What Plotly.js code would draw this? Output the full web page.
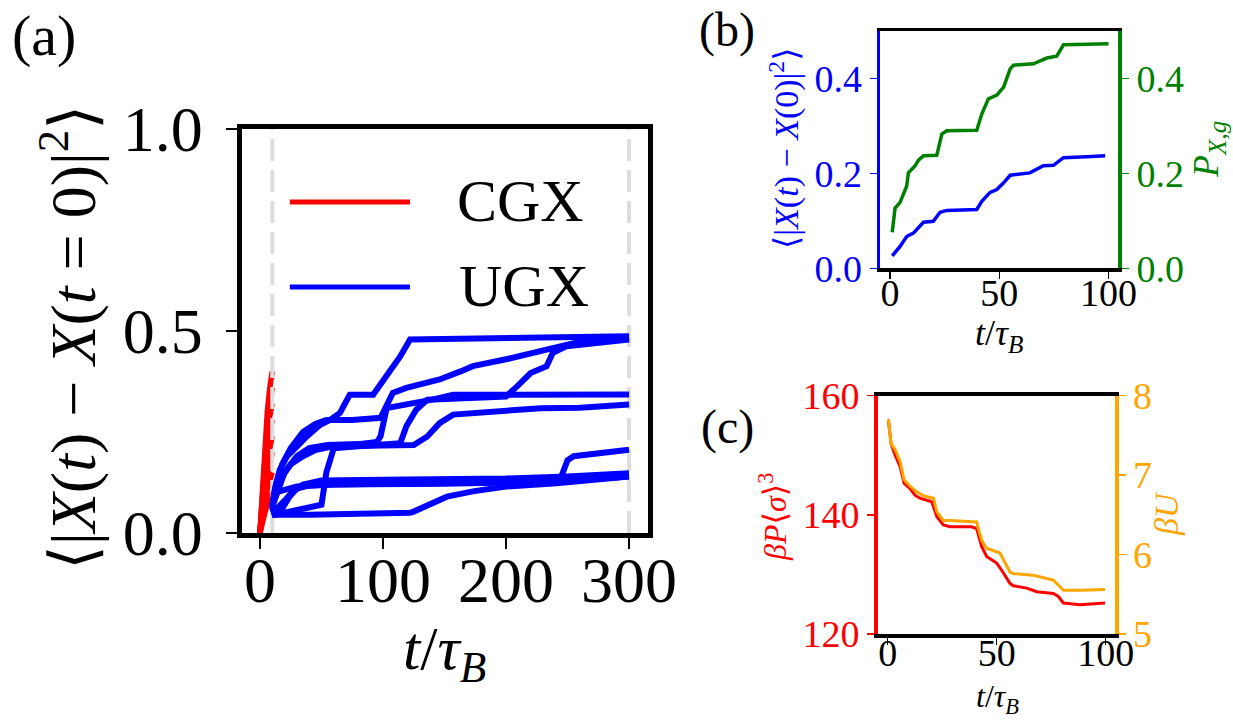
<!DOCTYPE html>
<html>
<head>
<meta charset="utf-8">
<script src="https://cdn.plot.ly/plotly-3.0.1.min.js"></script>
<style>html,body{margin:0;padding:0;background:#fff;}#chart{width:1233px;height:721px;}</style>
</head>
<body>
<div id="chart"></div>
<script>
// ---------------- DATA ----------------
// Panel (a): CGX trajectories (t from 0 to 10)
const cgxT = [0, 2, 4, 6, 8, 10];
const cgx1 = [0, 0.12, 0.22, 0.30, 0.36, 0.40];
const cgx2 = [0, 0.10, 0.19, 0.27, 0.32, 0.36];
const cgx3 = [0, 0.09, 0.17, 0.24, 0.29, 0.32];
const cgx4 = [0, 0.08, 0.15, 0.21, 0.25, 0.28];
const cgx5 = [0, 0.07, 0.13, 0.18, 0.21, 0.24];
const cgx6 = [0, 0.05, 0.10, 0.14, 0.17, 0.20];
const cgx7 = [0, 0.04, 0.08, 0.11, 0.13, 0.15];
const cgx8 = [0, 0.03, 0.05, 0.07, 0.09, 0.10];
const cgxSeries = [cgx1, cgx2, cgx3, cgx4, cgx5, cgx6, cgx7, cgx8];

// Panel (a): UGX trajectories
const ugx1T = [10,12,16,22,30,38,49,57,65,68,73,92,103,114,122,150,200,250,300];
const ugx1Y = [0.065,0.107,0.156,0.19,0.214,0.239,0.268,0.28,0.297,0.313,0.342,0.342,0.388,0.437,0.479,0.48,0.481,0.483,0.487];
const ugx2T = [10,13,18,25,35,45,54,75,98,103,108,119,146,163,173,200,228,241,255,300];
const ugx2Y = [0.065,0.12,0.17,0.21,0.25,0.27,0.28,0.28,0.285,0.32,0.347,0.359,0.38,0.40,0.413,0.43,0.45,0.462,0.47,0.485];
const ugx3T = [10,12,20,35,50,54,60,80,100,114,119,127,136,170,200,209,220,233,238,249,300];
const ugx3Y = [0.065,0.045,0.05,0.06,0.07,0.15,0.21,0.215,0.218,0.222,0.264,0.305,0.33,0.335,0.338,0.363,0.396,0.413,0.446,0.462,0.479];
const ugx4T = [10,13,20,30,40,55,80,95,98,103,120,140,157,200,250,300];
const ugx4Y = [0.065,0.09,0.15,0.19,0.21,0.218,0.22,0.225,0.239,0.309,0.318,0.33,0.342,0.342,0.343,0.343];
const ugx5T = [10,12,18,25,35,45,60,90,110,125,136,146,157,173,200,228,260,300];
const ugx5Y = [0.065,0.1,0.14,0.17,0.19,0.205,0.215,0.218,0.218,0.218,0.239,0.272,0.293,0.297,0.301,0.309,0.31,0.318];
const ugx6T = [10,12,30,60,100,150,200,240,245,250,255,275,300];
const ugx6Y = [0.065,0.1,0.115,0.12,0.122,0.123,0.125,0.127,0.14,0.18,0.19,0.197,0.206];
const ugx7T = [10,12,20,26,35,50,100,150,200,250,300];
const ugx7Y = [0.065,0.055,0.08,0.10,0.12,0.13,0.132,0.133,0.135,0.14,0.148];
const ugx8T = [10,12,40,80,110,122,125,141,152,173,200,241,270,300];
const ugx8Y = [0.065,0.045,0.045,0.046,0.047,0.05,0.053,0.074,0.09,0.103,0.115,0.123,0.13,0.14];
const ugx9T = [10,12,18,24,30,40,60,100,150,200,250,300];
const ugx9Y = [0.065,0.05,0.06,0.09,0.11,0.118,0.12,0.12,0.122,0.125,0.13,0.14];
const ugxSeries = [[ugx1T,ugx1Y],[ugx2T,ugx2Y],[ugx3T,ugx3Y],[ugx4T,ugx4Y],[ugx5T,ugx5Y],[ugx6T,ugx6Y],[ugx7T,ugx7Y],[ugx8T,ugx8Y],[ugx9T,ugx9Y]];

// Vertical dashed reference times in (a)
const refTimes = [10, 300];

// Panel (b)
const bMsdT = [1,4.6,7.6,10.7,15.3,19.8,22.9,26,39.7,42,45.8,48.9,52,55,64,67.2,70.2,74.8,79.4,90,98.5];
const bMsdY = [0.026,0.046,0.067,0.074,0.097,0.099,0.118,0.122,0.124,0.141,0.160,0.166,0.18,0.196,0.201,0.208,0.216,0.217,0.233,0.235,0.237];
const bPT = [1,2.3,4.6,7.6,8.4,11.5,13,15.3,21.4,23.7,26,39.7,42,45,48.9,52,55,56.5,65.6,71.8,76.3,79.4,90,100];
const bPY = [0.076,0.127,0.139,0.173,0.201,0.216,0.228,0.237,0.238,0.283,0.29,0.291,0.325,0.357,0.365,0.382,0.42,0.428,0.431,0.443,0.447,0.471,0.472,0.473];

// Panel (c)
const cPressT = [0.3,1.5,3.4,5.7,7.5,10.2,12.5,14.8,20.2,22.5,25.5,28.6,38.5,40.8,43.1,45.4,50,52.3,56.1,57.6,63.8,68.4,76,78.3,80.6,88.3,99.7];
const cPressY = [156.0,152,150,148.1,145.3,144.4,143.3,142.8,142.2,139.7,138.3,138.0,138.0,137.7,134.7,133.0,131.9,130.7,128.5,128.1,127.7,127.1,126.8,126.3,125.2,124.9,125.2];
const cUT = [0.3,1.5,3.4,5.7,7.5,10.2,13.3,16.4,21,22.5,25.5,28.6,40.8,43.1,45.4,51.5,56.1,57.6,66.8,76,80.6,88.3,99.7];
const cUY = [7.70,7.40,7.32,7.17,6.94,6.86,6.79,6.74,6.71,6.54,6.43,6.43,6.41,6.18,6.08,6.02,5.78,5.76,5.74,5.68,5.55,5.55,5.56];

// Tick values / labels
const aXTicks = [0, 100, 200, 300];
const aYTicks = [0, 0.5, 1.0];
const aYLabels = ['0.0', '0.5', '1.0'];
const bXTicks = [0, 50, 100];
const bYTicks = [0, 0.2, 0.4];
const bYLabels = ['0.0', '0.2', '0.4'];
const cXTicks = [0, 50, 100];
const cYTicks = [120, 140, 160];
const cY2Ticks = [5, 6, 7, 8];

// ---------------- STYLE ----------------
const SERIF = '"Liberation Serif", "Times New Roman", "DejaVu Serif", serif';
const W = 1233, H = 721;
const px = v => v / W;
const py = v => 1 - v / H;

const traces = [];
cgxSeries.forEach(s => traces.push({
  x: cgxT, y: s, type: 'scatter', mode: 'lines', xaxis: 'x', yaxis: 'y',
  line: {color: '#ff0000', width: 5.5}, showlegend: false, hoverinfo: 'skip'
}));
refTimes.forEach(t => traces.push({
  x: [t, t], y: [0, 1], type: 'scatter', mode: 'lines', xaxis: 'x', yaxis: 'y',
  line: {color: '#dddddd', width: 4, dash: '22px,9px'}, showlegend: false, hoverinfo: 'skip'
}));
ugxSeries.forEach(s => traces.push({
  x: s[0], y: s[1], type: 'scatter', mode: 'lines', xaxis: 'x', yaxis: 'y',
  line: {color: '#0000ff', width: 6}, showlegend: false, hoverinfo: 'skip'
}));
traces.push({x: bMsdT, y: bMsdY, type: 'scatter', mode: 'lines', xaxis: 'x2', yaxis: 'y2',
  line: {color: '#0000ff', width: 3.5}, showlegend: false});
traces.push({x: bPT, y: bPY, type: 'scatter', mode: 'lines', xaxis: 'x2', yaxis: 'y3',
  line: {color: '#008000', width: 3.5}, showlegend: false});
traces.push({x: cPressT, y: cPressY, type: 'scatter', mode: 'lines', xaxis: 'x3', yaxis: 'y4',
  line: {color: '#ff0000', width: 3}, showlegend: false});
traces.push({x: cUT, y: cUY, type: 'scatter', mode: 'lines', xaxis: 'x3', yaxis: 'y5',
  line: {color: '#ffa500', width: 3}, showlegend: false});

function ax(opts) {
  return Object.assign({
    showgrid: false, zeroline: false, showline: true, ticks: 'outside',
    linecolor: '#000', tickcolor: '#000', fixedrange: true,
  }, opts);
}

function note(text, x, y, size, color, angle) {
  const a = {text: text, xref: 'paper', yref: 'paper', x: px(x), y: py(y),
    xanchor: 'center', yanchor: 'middle', showarrow: false,
    font: {family: SERIF, size: size, color: color}};
  if (angle !== undefined) a.textangle = angle;
  return a;
}

const layout = {
  width: W, height: H,
  margin: {l: 0, r: 0, t: 0, b: 0, pad: 0},
  paper_bgcolor: '#fff', plot_bgcolor: 'rgba(0,0,0,0)',
  showlegend: false,
  xaxis: ax({domain: [px(241.5), px(647.5)], anchor: 'y', range: [-15, 315],
    tickvals: aXTicks, ticktext: aXTicks.map(String), mirror: true, linewidth: 5,
    ticklen: 11, tickwidth: 2.5, ticklabelstandoff: -24, tickfont: {family: SERIF, size: 64, color: '#000'}}),
  yaxis: ax({domain: [py(533), py(129)], anchor: 'x', range: [0, 1],
    tickvals: aYTicks, ticktext: aYLabels, mirror: true, linewidth: 5,
    ticklen: 11, tickwidth: 2.5, ticklabelstandoff: 10, tickfont: {family: SERIF, size: 64, color: '#000'}}),

  xaxis2: ax({domain: [px(880), px(1118.3)], anchor: 'y2', range: [-4.6, 104.5],
    tickvals: bXTicks, ticktext: bXTicks.map(String), mirror: true, linewidth: 3.5,
    ticklen: 7, tickwidth: 1.5, ticklabelstandoff: -18, tickfont: {family: SERIF, size: 38, color: '#000'}}),
  yaxis2: ax({domain: [py(268.3), py(31)], anchor: 'x2', range: [0, 0.5],
    tickvals: bYTicks, ticktext: bYLabels, linewidth: 3.5, linecolor: '#0000ff', tickcolor: '#0000ff',
    ticklen: 7, tickwidth: 1.5, tickfont: {family: SERIF, size: 38, color: '#0000ff'}}),
  yaxis3: ax({overlaying: 'y2', side: 'right', anchor: 'x2', range: [0, 0.5],
    tickvals: bYTicks, ticktext: bYLabels, linewidth: 3.5, linecolor: '#008000', tickcolor: '#008000',
    ticklen: 7, tickwidth: 1.5, tickfont: {family: SERIF, size: 38, color: '#008000'}}),

  xaxis3: ax({domain: [px(877.7), px(1115)], anchor: 'y4', range: [-4.6, 104.3],
    tickvals: cXTicks, ticktext: cXTicks.map(String), mirror: true, linewidth: 3.5,
    ticklen: 7, tickwidth: 1.5, ticklabelstandoff: -24, tickfont: {family: SERIF, size: 38, color: '#000'}}),
  yaxis4: ax({domain: [py(634), py(395.7)], anchor: 'x3', range: [120, 160],
    tickvals: cYTicks, ticktext: cYTicks.map(String), linewidth: 3.5, linecolor: '#ff0000', tickcolor: '#ff0000',
    ticklen: 7, tickwidth: 1.5, tickfont: {family: SERIF, size: 38, color: '#ff0000'}}),
  yaxis5: ax({overlaying: 'y4', side: 'right', anchor: 'x3', range: [5, 8],
    tickvals: cY2Ticks, ticktext: cY2Ticks.map(String), linewidth: 3.5, linecolor: '#ffa500', tickcolor: '#ffa500',
    ticklen: 7, tickwidth: 1.5, tickfont: {family: SERIF, size: 38, color: '#ffa500'}}),

  shapes: [
    {type: 'line', xref: 'x domain', yref: 'y domain', x0: 0.119, x1: 0.415, y0: 0.819, y1: 0.819,
     line: {color: '#ff0000', width: 5}},
    {type: 'line', xref: 'x domain', yref: 'y domain', x0: 0.119, x1: 0.415, y0: 0.609, y1: 0.609,
     line: {color: '#0000ff', width: 5}}
  ],
  annotations: [
    // legend labels
    {text: 'CGX', xref: 'x domain', yref: 'y domain', x: 0.525, y: 0.822, xanchor: 'left', yanchor: 'middle',
     showarrow: false, font: {family: SERIF, size: 60, color: '#000'}},
    {text: 'UGX', xref: 'x domain', yref: 'y domain', x: 0.53, y: 0.612, xanchor: 'left', yanchor: 'middle',
     showarrow: false, font: {family: SERIF, size: 60, color: '#000'}},
    // panel labels
    note('(a)', 44, 36, 58, '#000'),
    note('(b)', 727, 30, 48, '#000'),
    note('(c)', 727, 427, 48, '#000'),
    // axis titles (a)
    note('⟨|<i>X</i>(<i>t</i>) − <i>X</i>(<i>t</i> = 0)|<sup>2</sup>⟩', 68, 338, 64, '#000', -90),
    note('<i>t</i>/<i>τ</i><sub><i>B</i></sub>', 444, 652, 62, '#000'),
    // axis titles (b)
    note('⟨|<i>X</i>(<i>t</i>) − <i>X</i>(0)|<sup>2</sup>⟩', 784, 148, 34, '#0000ff', -90),
    note('<i>P</i><sub><i>X</i>,<i>g</i></sub>', 1208, 150, 36, '#008000', -90),
    note('<i>t</i>/<i>τ</i><sub><i>B</i></sub>', 999, 335, 36, '#000'),
    // axis titles (c)
    note('<i>βP</i>⟨<i>σ</i>⟩<sup>3</sup>', 773, 517, 32, '#ff0000', -90),
    note('<i>βU</i>', 1166, 514, 34, '#ffa500', -90),
    note('<i>t</i>/<i>τ</i><sub><i>B</i></sub>', 997, 698, 32, '#000')
  ]
};

Plotly.newPlot('chart', traces, layout, {staticPlot: true, displayModeBar: false});
</script>
</body>
</html>
